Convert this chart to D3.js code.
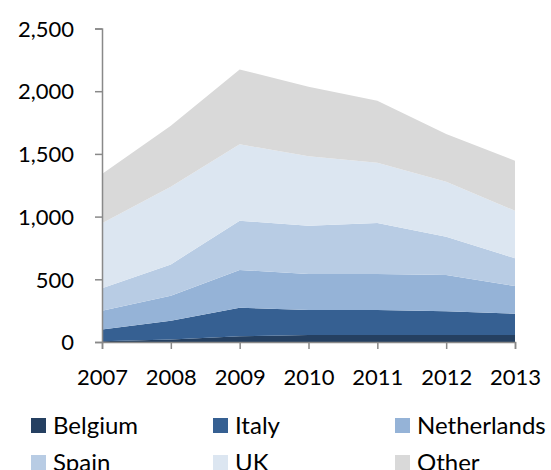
<!DOCTYPE html>
<meta charset="utf-8">
<head>
  <style>
    body { margin: 0; background: #fff; }
    .lbl { font-family: Lato, "Open Sans", sans-serif; font-size: 22px; fill: #000; }
    .leg { font-family: Lato, "Open Sans", sans-serif; font-size: 24px; fill: #000; }
    .axis path, .axis line { stroke: #898989; stroke-width: 1.5px; }
  </style>
  <script src="https://cdn.jsdelivr.net/npm/d3@7"></script>
</head>
<body>
  <svg width="551" height="470"></svg>
  <script>

    var years = [2007, 2008, 2009, 2010, 2011, 2012, 2013]
    var countries = ["Belgium", "Italy", "Netherlands", "Spain", "UK", "Other"]
    var colors = ["#254061", "#366092", "#95b3d7", "#b8cce4", "#dce6f1", "#d9d9d9"]

    var belgium = [5, 20, 45, 55, 55, 55, 55]
    var italy = [95, 150, 228, 200, 200, 190, 171]
    var netherlands = [150, 199, 301, 287, 287, 289, 220]
    var spain = [178, 250, 393, 385, 406, 305, 222]
    var uk = [518, 619, 609, 555, 481, 439, 378]
    var other = [393, 486, 598, 553, 494, 380, 399]

    var yTicks = [0, 500, 1000, 1500, 2000, 2500]

    var series = [belgium, italy, netherlands, spain, uk, other]

    var rows = years.map(function(y, i) {
      var r = { year: y }
      countries.forEach(function(c, j) { r[c] = series[j][i] })
      return r
    })

    var svg = d3.select("svg")

    var x = d3.scaleLinear()
      .domain([2007, 2013])
      .range([102, 515])

    var y = d3.scaleLinear()
      .domain([0, 2500])
      .range([342, 28.5])

    var stack = d3.stack().keys(countries)(rows)

    var area = d3.area()
      .x(function(d) { return x(d.data.year) })
      .y0(function(d) { return y(d[0]) })
      .y1(function(d) { return y(d[1]) })

    svg.append("g")
      .selectAll("path")
      .data(stack)
      .enter().append("path")
      .attr("fill", function(d, i) { return colors[i] })
      .attr("d", area)

    // axes
    var yAxis = svg.append("g")
      .attr("class", "axis")
      .attr("transform", "translate(102,0)")
      .call(d3.axisLeft(y).tickValues(yTicks).tickSize(7).tickSizeOuter(7).tickFormat(d3.format(",")))
    yAxis.selectAll("text").attr("class", "lbl").attr("x", -28).attr("dy", "0.35em")

    var xAxis = svg.append("g")
      .attr("class", "axis")
      .attr("transform", "translate(0,342)")
      .call(d3.axisBottom(x).tickValues(years).tickSize(7).tickSizeOuter(7).tickFormat(d3.format("d")))
    xAxis.selectAll("text").attr("class", "lbl").attr("y", 35).attr("dy", "0.35em")

    // legend
    var legend = svg.append("g")
      .selectAll("g")
      .data(countries)
      .enter().append("g")
      .attr("transform", function(d, i) {
        return "translate(" + (31 + (i % 3) * 182) + "," + (425.5 + Math.floor(i / 3) * 37) + ")"
      })

    legend.append("rect")
      .attr("x", 0)
      .attr("y", -7.5)
      .attr("width", 15)
      .attr("height", 15)
      .attr("fill", function(d, i) { return colors[i] })

    legend.append("text")
      .attr("class", "leg")
      .attr("x", 22)
      .attr("dy", "0.35em")
      .text(function(d) { return d })

  </script>
</body>
